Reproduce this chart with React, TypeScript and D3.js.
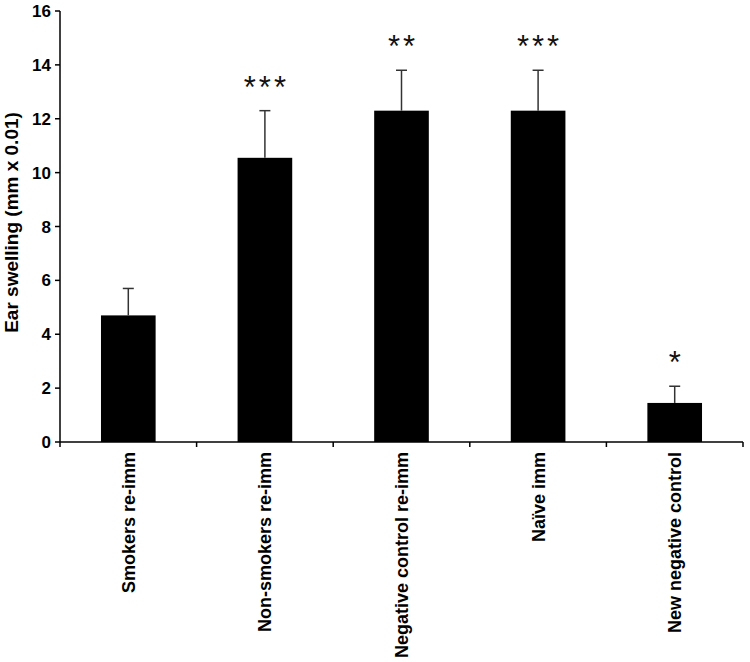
import React from "react";
import { scaleBand, scaleLinear } from "d3";

const categories = [
  "Smokers re-imm",
  "Non-smokers re-imm",
  "Negative control re-imm",
  "Naïve imm",
  "New negative control",
];
const means = [4.7, 10.55, 12.3, 12.3, 1.45];
const errors = [1.0, 1.75, 1.5, 1.5, 0.62];
const stars = ["", "***", "**", "***", "*"];
const yTicks = [0, 2, 4, 6, 8, 10, 12, 14, 16];

const width = 750;
const height = 662;
const margin = { top: 11, right: 6, bottom: 220, left: 60 };
const font = "'Liberation Sans', Arial, Helvetica, sans-serif";

export default function App() {
  const x = scaleBand<string>()
    .domain(categories)
    .range([margin.left, width - margin.right - 1])
    .paddingInner(0.6)
    .paddingOuter(0.3);

  const y = scaleLinear()
    .domain([0, 16])
    .range([height - margin.bottom, margin.top]);

  const y0 = y(0);
  const step = x.step();
  const bounds = categories.map((_, i) => margin.left + i * step).concat([margin.left + categories.length * step]);

  return (
    <svg
      width={width}
      height={height}
      style={{ position: "absolute", left: 0, top: 0, background: "#fff" }}
      fontFamily={font}
    >
      {/* bars */}
      {categories.map((c, i) => (
        <rect
          key={c}
          x={x(c)}
          y={y(means[i])}
          width={x.bandwidth()}
          height={y0 - y(means[i])}
          fill="#000"
        />
      ))}

      {/* error bars, upper only */}
      {categories.map((c, i) => {
        const cx = (x(c) as number) + x.bandwidth() / 2;
        const top = y(means[i] + errors[i]);
        return (
          <g key={c} stroke="#333" strokeWidth={1.5}>
            <line x1={cx} x2={cx} y1={y(means[i])} y2={top} />
            <line x1={cx - 5.5} x2={cx + 5.5} y1={top} y2={top} />
          </g>
        );
      })}

      {/* significance stars */}
      {categories.map((c, i) => {
        const cx = (x(c) as number) + x.bandwidth() / 2;
        const top = y(means[i] + errors[i]);
        return (
          <text
            key={c}
            x={cx + 1.5}
            y={top - 13}
            textAnchor="middle"
            fontSize={31}
            letterSpacing={3}
            fill="#111"
          >
            {stars[i]}
          </text>
        );
      })}

      {/* y axis */}
      <line x1={margin.left} x2={margin.left} y1={y(16)} y2={y0} stroke="#000" strokeWidth={1.5} />
      {yTicks.map((t) => (
        <g key={t}>
          <line x1={margin.left - 5} x2={margin.left} y1={y(t)} y2={y(t)} stroke="#000" strokeWidth={1.5} />
          <text
            x={margin.left - 9}
            y={y(t)}
            dy="0.36em"
            textAnchor="end"
            fontSize={17}
            fontWeight="bold"
          >
            {t}
          </text>
        </g>
      ))}

      {/* x axis */}
      <line x1={margin.left} x2={bounds[bounds.length - 1]} y1={y0} y2={y0} stroke="#000" strokeWidth={1.5} />
      {bounds.map((b, i) => (
        <line key={i} x1={b} x2={b} y1={y0} y2={y0 + 5} stroke="#000" strokeWidth={1.5} />
      ))}
      {categories.map((c) => {
        const cx = (x(c) as number) + x.bandwidth() / 2;
        return (
          <text
            key={c}
            transform={`translate(${cx},${y0 + 10}) rotate(-90)`}
            dy="0.36em"
            textAnchor="end"
            fontSize={18}
            fontWeight="bold"
          >
            {c}
          </text>
        );
      })}

      {/* y axis title */}
      <text
        transform={`translate(18,${(y(16) + y0) / 2 - 4}) rotate(-90)`}
        textAnchor="middle"
        fontSize={19}
        fontWeight="bold"
      >
        Ear swelling (mm x 0.01)
      </text>
    </svg>
  );
}
